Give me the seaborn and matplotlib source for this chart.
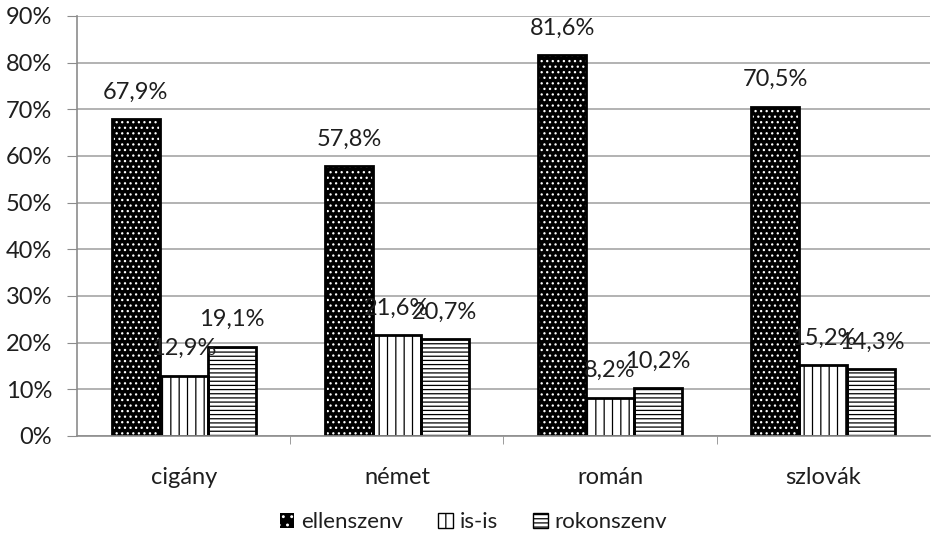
import matplotlib
matplotlib.use("Agg")
import matplotlib.pyplot as plt
import seaborn as sns
import pandas as pd
import numpy as np
from matplotlib.patches import Rectangle, Patch
from matplotlib.ticker import FuncFormatter

categories = ["cigány", "német", "román", "szlovák"]
series = ["ellenszenv", "is-is", "rokonszenv"]
ellenszenv = [67.9, 57.8, 81.6, 70.5]
isis = [12.9, 21.6, 8.2, 15.2]
rokonszenv = [19.1, 20.7, 10.2, 14.3]
y_ticks = list(range(0, 91, 10))

rows = []
for name, vals in zip(series, [ellenszenv, isis, rokonszenv]):
    for c, v in zip(categories, vals):
        rows.append({"cat": c, "series": name, "value": v})
df = pd.DataFrame(rows)

sns.set_style("white")
plt.rcParams["font.family"] = ["Lato", "DejaVu Sans"]
plt.rcParams["hatch.linewidth"] = 0.9

fig = plt.figure(figsize=(9.37, 5.4), dpi=100)
ax = fig.add_axes([0.0822, 0.1926, 0.9925 - 0.0822, 0.9704 - 0.1926])

sns.barplot(data=df, x="cat", y="value", hue="series", order=categories,
            hue_order=series, width=0.675, ax=ax, legend=False,
            palette=["black", "white", "white"], saturation=1, errorbar=None)

styles = {
    "ellenszenv": dict(fc="black", hatch_color="white", hatch="..."),
    "is-is": dict(fc="white", hatch_color="black", hatch="||"),
    "rokonszenv": dict(fc="white", hatch_color="black", hatch="----"),
}
txt = "#1e1e1e"
fs = 17
bars = [p for p in ax.patches if isinstance(p, Rectangle)]
n = len(categories)
for si, name in enumerate(series):
    st = styles[name]
    for ci in range(n):
        p = bars[si * n + ci]
        p.set_facecolor(st["fc"])
        p.set_edgecolor(st["hatch_color"])
        p.set_hatch(st["hatch"])
        p.set_linewidth(0)
        p.set_zorder(2)
        ax.add_patch(Rectangle(p.get_xy(), p.get_width(), p.get_height(),
                               fill=False, ec="black", lw=2.0, zorder=2.5))
        val = p.get_height()
        ax.annotate(f"{val:.1f}%".replace(".", ","),
                    (p.get_x() + p.get_width() / 2, val),
                    xytext=(0, 12), textcoords="offset points",
                    ha="center", va="bottom", fontsize=fs, color=txt,
                    zorder=3)

ax.set_ylim(0, 90)
ax.set_xlim(-0.5, n - 0.5)
ax.set_yticks(y_ticks)
ax.yaxis.set_major_formatter(FuncFormatter(lambda v, _: f"{v:.0f}%"))
ax.grid(axis="y", color="#a6a6a6", lw=1.2, zorder=0)
ax.set_axisbelow(True)
for s in ["top", "right"]:
    ax.spines[s].set_visible(False)
for s in ["left", "bottom"]:
    ax.spines[s].set_color("#8c8c8c")
    ax.spines[s].set_linewidth(1.2)
ax.tick_params(axis="y", length=7, color="#8c8c8c", labelsize=fs,
               labelcolor=txt, left=True, pad=11)
ax.set_xticks(range(n))
ax.set_xticklabels(categories)
ax.tick_params(axis="x", length=0, labelsize=fs, labelcolor=txt, pad=22)
ax.set_xticks(np.arange(0.5, n - 0.5, 1), minor=True)
ax.tick_params(axis="x", which="minor", length=6, color="#8c8c8c", bottom=True)
ax.set_xlabel("")
ax.set_ylabel("")

handles = [Patch(facecolor=styles[s]["fc"], edgecolor="black", hatch=styles[s]["hatch"], lw=1)
           for s in series]
handles[0] = Patch(facecolor="black", edgecolor="white", hatch="..", lw=0)
fig.legend(handles, series, loc="center", bbox_to_anchor=(0.505, 0.033), ncol=3,
           frameon=False, fontsize=16, handlelength=0.65, handleheight=0.65,
           handletextpad=0.3, columnspacing=1.6, labelcolor=txt)

fig.savefig("out.png", dpi=100)
